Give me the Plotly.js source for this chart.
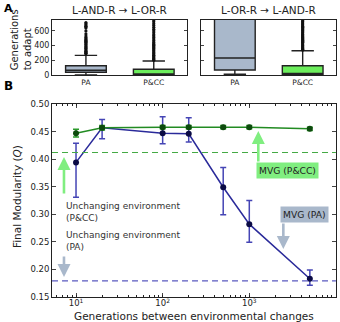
<!DOCTYPE html>
<html>
<head>
<meta charset="utf-8">
<script src="https://cdn.plot.ly/plotly-3.0.1.min.js"></script>
<style>
  html, body { margin: 0; padding: 0; background: #fff; }
  #chart { width: 340px; height: 322px; }
</style>
</head>
<body>
<div id="chart"></div>
<script>
// ---- Panel A: generations needed to adapt after a goal switch ----
const boxCategories = ['PA', 'P&CC'];

// L-AND-R -> L-OR-R (box statistics per category)
const andToOrQ1 = [37, 2];
const andToOrMedian = [64, 4];
const andToOrQ3 = [126, 78];
const andToOrLow = [0, 0];
const andToOrHigh = [268, 190];
const andToOrFliersPA = [285, 295, 305, 312, 320, 330, 345, 360, 372, 385, 400, 415, 430, 445, 460, 470, 480, 495, 510, 530, 560, 600, 640, 655, 665, 680, 700, 715];
const andToOrFliersPCC = [200, 210, 220, 232, 245, 258, 270, 285, 300, 315, 330, 345, 360, 375, 390, 405, 420, 435, 450, 470, 490, 510, 530, 550, 575, 600, 625, 650, 675, 700, 725, 745];

// L-OR-R -> L-AND-R
const orToAndQ1 = [68, 8];
const orToAndMedian = [231, 10];
const orToAndQ3 = [2000, 126];
const orToAndLow = [10, 0];
const orToAndHigh = [3000, 330];
const orToAndFliersPCC = [340, 350, 360, 372, 385, 398, 410, 422, 435, 448, 460, 472, 485, 498, 510, 522, 535, 548, 560, 575, 590, 605, 620, 635, 650, 665, 680, 695, 710, 725, 740];

// ---- Panel B: final modularity vs. switching interval ----
const generations = [10, 20, 100, 200, 500, 1000, 5000];
const modularityPCC = [0.447, 0.457, 0.458, 0.458, 0.458, 0.458, 0.455];
const modularityPCCUpper = [0.454, 0.461, 0.461, 0.461, 0.461, 0.461, 0.458];
const modularityPCCLower = [0.440, 0.453, 0.455, 0.455, 0.455, 0.455, 0.452];
const modularityPA = [0.394, 0.457, 0.447, 0.446, 0.349, 0.282, 0.183];
const modularityPAUpper = [0.429, 0.472, 0.477, 0.475, 0.385, 0.325, 0.199];
const modularityPALower = [0.331, 0.437, 0.428, 0.431, 0.299, 0.249, 0.171];
const unchangingPCC = 0.412;
const unchangingPA = 0.179;

const yTickVals = [0.15, 0.20, 0.25, 0.30, 0.35, 0.40, 0.45, 0.50];
const xTickVals = [10, 100, 1000, 10000];
const xTickText = ['10<sup>1</sup>', '10<sup>2</sup>', '10<sup>3</sup>', '10<sup>4</sup>'];
const countTickVals = [0, 200, 400, 600];

const FONT = 'DejaVu Sans, sans-serif';
const INK = '#222';
const PA_FILL = '#a9b8cb';
const PCC_FILL = '#6cee5c';
const X_RANGE = [0.723, 4.0];

const sub = (a, b) => a.map((v, i) => v - b[i]);

function boxTrace(xa, ya, cat, q1, med, q3, lo, hi, fill) {
  return {
    type: 'box', xaxis: xa, yaxis: ya,
    x: [cat], q1: [q1], median: [med], q3: [q3],
    lowerfence: [lo], upperfence: [hi],
    width: 0.6, whiskerwidth: 0.55,
    fillcolor: fill, line: { color: INK, width: 1.4 },
    boxpoints: false, hoverinfo: 'skip', showlegend: false
  };
}
function flierTrace(xa, ya, cat, vals) {
  return {
    type: 'scatter', mode: 'markers', xaxis: xa, yaxis: ya,
    x: vals.map(() => cat), y: vals,
    marker: { color: '#111', size: 3.2 },
    hoverinfo: 'skip', showlegend: false, cliponaxis: true
  };
}

const traces = [
  boxTrace('x2', 'y2', boxCategories[0], andToOrQ1[0], andToOrMedian[0], andToOrQ3[0], andToOrLow[0], andToOrHigh[0], PA_FILL),
  boxTrace('x2', 'y2', boxCategories[1], andToOrQ1[1], andToOrMedian[1], andToOrQ3[1], andToOrLow[1], andToOrHigh[1], PCC_FILL),
  flierTrace('x2', 'y2', boxCategories[0], andToOrFliersPA),
  flierTrace('x2', 'y2', boxCategories[1], andToOrFliersPCC),
  boxTrace('x3', 'y3', boxCategories[0], orToAndQ1[0], orToAndMedian[0], orToAndQ3[0], orToAndLow[0], orToAndHigh[0], PA_FILL),
  boxTrace('x3', 'y3', boxCategories[1], orToAndQ1[1], orToAndMedian[1], orToAndQ3[1], orToAndLow[1], orToAndHigh[1], PCC_FILL),
  flierTrace('x3', 'y3', boxCategories[1], orToAndFliersPCC),
  // invisible carrier so the minor-tick log axis is drawn
  {
    type: 'scatter', mode: 'markers', xaxis: 'x4', yaxis: 'y',
    x: generations, y: modularityPA, marker: { opacity: 0 },
    hoverinfo: 'skip', showlegend: false
  },
  {
    type: 'scatter', mode: 'lines+markers', x: generations, y: modularityPA,
    line: { color: '#2a2a9a', width: 1.5 },
    marker: { color: '#0b0b45', size: 6 },
    error_y: { type: 'data', symmetric: false,
      array: sub(modularityPAUpper, modularityPA),
      arrayminus: sub(modularityPA, modularityPALower),
      color: '#4545b5', thickness: 1.5, width: 3 },
    hoverinfo: 'skip', showlegend: false
  },
  {
    type: 'scatter', mode: 'lines+markers', x: generations, y: modularityPCC,
    line: { color: '#228b22', width: 1.5 },
    marker: { color: '#0d4a0d', size: 6 },
    error_y: { type: 'data', symmetric: false,
      array: sub(modularityPCCUpper, modularityPCC),
      arrayminus: sub(modularityPCC, modularityPCCLower),
      color: '#2a9a2a', thickness: 1.5, width: 3 },
    hoverinfo: 'skip', showlegend: false
  }
];

const frame = { showline: true, linecolor: INK, linewidth: 1, mirror: 'ticks', zeroline: false, showgrid: false };
const tickFont = { family: FONT, size: 8.5, color: INK };

const catAxis = (dom) => Object.assign({}, frame, {
  domain: dom, type: 'category', categoryorder: 'array', categoryarray: boxCategories,
  range: [-0.5, 1.49], ticks: '', tickfont: { family: FONT, size: 7.5, color: INK }, fixedrange: true
});

function arrow(x, yTail, yHead, color) {
  return {
    xref: 'x', yref: 'y', axref: 'x', ayref: 'y',
    x: x, y: yHead, ax: x, ay: yTail, text: '',
    showarrow: true, arrowhead: 2, arrowsize: 1, arrowwidth: 2.6, arrowcolor: color, standoff: 0
  };
}

const layout = {
  width: 340, height: 322,
  margin: { l: 0, r: 0, t: 0, b: 0 },
  paper_bgcolor: '#fff', plot_bgcolor: '#fff',
  boxmode: 'overlay',
  font: { family: FONT, color: INK },
  xaxis: Object.assign({}, frame, {
    domain: [0.153, 0.988], type: 'log', range: X_RANGE,
    tickvals: xTickVals, ticktext: xTickText, ticks: 'inside', ticklen: 4,
    ticklabelstandoff: -2, tickfont: tickFont
  }),
  // log minor ticks (2..9 of each decade), no labels, mirrored on top
  xaxis4: {
    overlaying: 'x', anchor: 'y', type: 'log', range: X_RANGE, dtick: 'D1',
    showticklabels: false, ticks: 'inside', ticklen: 2, tickcolor: INK,
    showline: true, linecolor: INK, linewidth: 1, mirror: 'ticks', showgrid: false, zeroline: false
  },
  yaxis: Object.assign({}, frame, {
    domain: [0.078, 0.677], range: [0.15, 0.50],
    tickvals: yTickVals, tickformat: '.2f', ticks: 'inside', ticklen: 4,
    tickfont: tickFont
  }),
  xaxis2: Object.assign(catAxis([0.153, 0.55]), { anchor: 'y2' }),
  yaxis2: Object.assign({}, frame, {
    domain: [0.767, 0.938], anchor: 'x2', range: [0, 750],
    tickvals: countTickVals, ticks: 'inside', ticklen: 3, tickfont: { family: FONT, size: 8, color: INK }
  }),
  xaxis3: Object.assign(catAxis([0.591, 0.988]), { anchor: 'y3' }),
  yaxis3: Object.assign({}, frame, {
    domain: [0.767, 0.938], anchor: 'x3', range: [0, 750],
    tickvals: countTickVals, ticks: 'inside', ticklen: 3, showticklabels: false
  }),
  shapes: [
    { type: 'line', xref: 'x domain', yref: 'y', x0: 0, x1: 1, y0: unchangingPCC, y1: unchangingPCC,
      line: { color: '#44aa44', width: 1.2, dash: '6px,4px' } },
    { type: 'line', xref: 'x domain', yref: 'y', x0: 0, x1: 1, y0: unchangingPA, y1: unchangingPA,
      line: { color: '#5a5ac0', width: 1.2, dash: '6px,4px' } }
  ],
  annotations: [
    { xref: 'paper', yref: 'paper', x: 0.005, y: 1.0, xanchor: 'left', yanchor: 'top',
      text: '<b>A</b>', showarrow: false, font: { family: FONT, size: 11, color: '#000' } },
    { xref: 'paper', yref: 'paper', x: 0.005, y: 0.733, xanchor: 'left', yanchor: 'middle',
      text: '<b>B</b>', showarrow: false, font: { family: FONT, size: 12, color: '#000' } },
    { xref: 'x2 domain', yref: 'paper', x: 0.5, y: 0.968, xanchor: 'center', yanchor: 'middle',
      text: 'L-AND-R \u2192 L-OR-R', showarrow: false, font: { family: FONT, size: 10.5, color: INK } },
    { xref: 'x3 domain', yref: 'paper', x: 0.5, y: 0.968, xanchor: 'center', yanchor: 'middle',
      text: 'L-OR-R \u2192 L-AND-R', showarrow: false, font: { family: FONT, size: 10.5, color: INK } },
    { xref: 'paper', yref: 'paper', x: 0.062, y: 0.875, xanchor: 'center', yanchor: 'middle', textangle: -90,
      align: 'left', text: 'Generations<br>to adapt', showarrow: false, font: { family: FONT, size: 10, color: INK } },
    { xref: 'paper', yref: 'paper', x: 0.052, y: 0.39, xanchor: 'center', yanchor: 'middle', textangle: -90,
      text: 'Final Modularity (<i>Q</i>)', showarrow: false, font: { family: FONT, size: 10.5, color: INK } },
    { xref: 'paper', yref: 'paper', x: 0.571, y: -0.006, xanchor: 'center', yanchor: 'bottom',
      text: 'Generations between environmental changes', showarrow: false, font: { family: FONT, size: 10.5, color: INK } },
    { xref: 'x', yref: 'y', x: 0.861, y: 0.304, xanchor: 'left', yanchor: 'middle', align: 'left',
      text: 'Unchanging environment<br>(P&CC)', showarrow: false, font: { family: FONT, size: 9, color: '#333' } },
    { xref: 'x', yref: 'y', x: 0.861, y: 0.251, xanchor: 'left', yanchor: 'middle', align: 'left',
      text: 'Unchanging environment<br>(PA)', showarrow: false, font: { family: FONT, size: 9, color: '#333' } },
    arrow(0.861, 0.335, 0.404, '#80ee80'),
    arrow(0.861, 0.226, 0.186, '#a9b8cb'),
    arrow(3.104, 0.393, 0.451, '#80ee80'),
    arrow(3.393, 0.286, 0.237, '#a9b8cb'),
    { xref: 'x', yref: 'y', x: 3.44, y: 0.379, xanchor: 'center', yanchor: 'middle',
      text: 'MVG (P&CC)', showarrow: false, bgcolor: '#80ee80', borderpad: 2,
      font: { family: FONT, size: 9.2, color: '#222' } },
    { xref: 'x', yref: 'y', x: 3.636, y: 0.30, xanchor: 'center', yanchor: 'middle',
      text: 'MVG (PA)', showarrow: false, bgcolor: '#a9b8cb', borderpad: 2,
      font: { family: FONT, size: 9.2, color: '#222' } }
  ]
};

Plotly.newPlot('chart', traces, layout, { staticPlot: true, displayModeBar: false });
</script>
</body>
</html>
